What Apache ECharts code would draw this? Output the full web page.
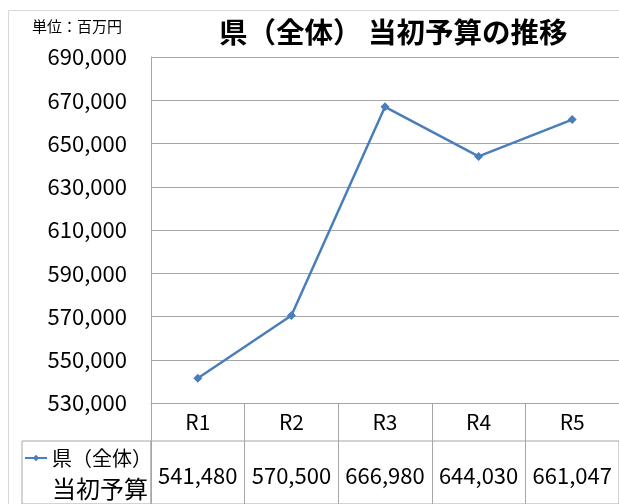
<!DOCTYPE html>
<html>
<head>
<meta charset="utf-8">
<script src="https://cdn.jsdelivr.net/npm/echarts@6/dist/echarts.min.js"></script>
<style>
html, body { margin: 0; padding: 0; background: #fff; }
#box { width: 619px; height: 504px; }
</style>
</head>
<body>
<div id="box"></div>
<script>
// データ
const categories = ['R1', 'R2', 'R3', 'R4', 'R5']
const budget = [541480, 570500, 666980, 644030, 661047]
const seriesName = '県（全体）当初予算'
const yMin = 530000
const yMax = 690000
const yStep = 20000

const fmt = v => v.toLocaleString('en-US')
const font = 'Noto Sans CJK JP'
const gray = '#a6a6a6'
const blue = '#4a7ebb'

const myChart = echarts.init(document.getElementById('box'))

const option = {
  backgroundColor: '#fff',
  textStyle: { fontFamily: font },
  animation: false,
  title: [
    {
      text: '県（全体） 当初予算の推移',
      left: 219,
      top: 18,
      padding: 0,
      textStyle: { fontSize: 28.5, fontWeight: 'bold', color: '#000', fontFamily: font }
    },
    {
      text: '単位：百万円',
      left: 32,
      top: 19,
      padding: 0,
      textStyle: { fontSize: 15, fontWeight: 'normal', color: '#000', fontFamily: font }
    }
  ],
  graphic: [
    {
      type: 'rect',
      shape: { x: 8.5, y: 10.5, width: 640, height: 520 },
      style: { fill: 'none', stroke: '#d9d9d9', lineWidth: 1 },
      silent: true,
      z: -1
    }
  ],
  legend: {
    data: [seriesName],
    left: 24,
    top: 448,
    padding: 0,
    itemWidth: 22,
    itemHeight: 8,
    formatter: () => '{a|県（全体）}\n{b|当初予算}',
    textStyle: {
      color: '#000',
      padding: [31, 0, 0, 0],
      rich: {
        a: { fontSize: 20, lineHeight: 31, fontFamily: font, color: '#000' },
        b: { fontSize: 24, lineHeight: 31, fontFamily: font, color: '#000' }
      }
    }
  },
  grid: [
    { left: 151, right: -3, top: 57, height: 346 },
    { left: 151, right: -3, top: 441, height: 90, show: true, borderColor: gray, borderWidth: 1 },
    { left: 22, width: 129, top: 441, height: 90, show: true, borderColor: gray, borderWidth: 1 }
  ],
  xAxis: [
    {
      type: 'category',
      gridIndex: 0,
      data: categories,
      boundaryGap: true,
      axisLine: { lineStyle: { color: gray } },
      axisTick: { show: true, length: 38, interval: 0, lineStyle: { color: gray } },
      axisLabel: { fontSize: 21, color: '#000', margin: 9 },
      splitLine: { show: false }
    },
    {
      type: 'category',
      gridIndex: 1,
      position: 'top',
      data: budget.map(fmt),
      boundaryGap: true,
      axisLine: { lineStyle: { color: gray } },
      axisTick: { show: false },
      axisLabel: { inside: true, fontSize: 22, color: '#000', margin: 24, interval: 0 },
      splitLine: { show: true, interval: 0, lineStyle: { color: gray } }
    },
    { type: 'category', gridIndex: 2, show: false, data: [''] }
  ],
  yAxis: [
    {
      type: 'value',
      gridIndex: 0,
      min: yMin,
      max: yMax,
      interval: yStep,
      axisLine: { show: true, lineStyle: { color: gray } },
      axisTick: { show: false },
      axisLabel: { fontSize: 22, color: '#000', margin: 24, formatter: fmt },
      splitLine: { lineStyle: { color: gray } }
    },
    { type: 'value', gridIndex: 1, show: false },
    { type: 'value', gridIndex: 2, show: false }
  ],
  series: [
    {
      name: seriesName,
      type: 'line',
      xAxisIndex: 0,
      yAxisIndex: 0,
      data: budget,
      symbol: 'diamond',
      symbolSize: 9,
      color: blue,
      lineStyle: { width: 2.5, color: blue },
      itemStyle: { color: blue }
    }
  ]
}

myChart.setOption(option)
</script>
</body>
</html>
